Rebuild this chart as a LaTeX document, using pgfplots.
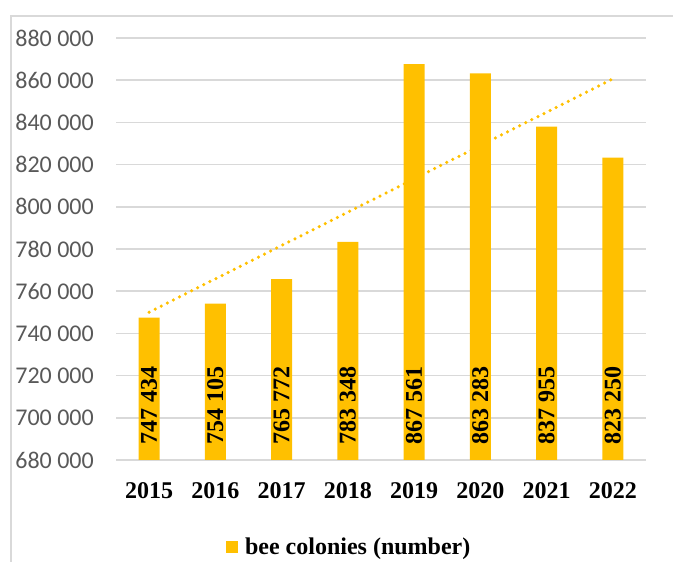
\documentclass[border=0pt]{standalone}
\usepackage{pgfplots}
\pgfplotsset{compat=1.18}
\usepackage{fontspec}
\setmainfont{Liberation Serif}
\newfontfamily\calibri{Carlito}
\definecolor{gold}{HTML}{FFC000}
\definecolor{gridgray}{HTML}{D9D9D9}
\definecolor{ticktext}{HTML}{595959}
\begin{document}
\begin{tikzpicture}
  \path[use as bounding box] (0bp,0bp) rectangle (673bp,562bp);
  % chart frame (cut by the page on the right and bottom)
  \draw[gridgray, line width=1.5bp] (11bp,0bp) -- (11bp,546bp) -- (673bp,546bp);
  \begin{axis}[
      at={(116bp,102bp)}, anchor=south west,
      scale only axis, width=530bp, height=422bp,
      ybar, bar width=21bp,
      xmin=0.5, xmax=8.5,
      ymin=680000, ymax=880000,
      scaled y ticks=false,
      xtick={1,...,8},
      xticklabels={2015,2016,2017,2018,2019,2020,2021,2022},
      ytick={680000,700000,...,880000},
      yticklabels={680 000,700 000,720 000,740 000,760 000,780 000,800 000,820 000,840 000,860 000,880 000},
      axis line style={draw=none},
      major tick length=0pt,
      ymajorgrids=true,
      grid style={gridgray, line width=1.5bp},
      xticklabel style={font=\fontsize{24bp}{28bp}\selectfont\bfseries, anchor=north, inner sep=0pt, yshift=-22bp},
      yticklabel style={font=\fontsize{24bp}{28bp}\calibri, text=ticktext, anchor=east, inner sep=0pt, xshift=-22bp},
      legend style={at={(axis description cs:0.44,-0.206)}, anchor=center, draw=none, fill=none,
        font=\fontsize{24bp}{28bp}\selectfont\bfseries},
      legend image code/.code={\fill[gold] (0bp,-6bp) rectangle (12bp,6bp); \path (17bp,0bp);},
    ]
    \addplot[fill=gold, draw=none] coordinates {
      (1,747434) (2,754105) (3,765772) (4,783348)
      (5,867561) (6,863283) (7,837955) (8,823250)
    };
    \addlegendentry{bee colonies (number)}
    % linear trend, end points of the least-squares line
    \addplot[sharp plot, gold, line width=3.5bp, line cap=round, dash pattern=on 0pt off 6.8bp, forget plot]
      coordinates {(1,750059) (8,860618)};
    % value labels at the bottom of each bar
    \addplot[draw=none, mark=none, forget plot, point meta=explicit symbolic,
      nodes near coords,
      every node near coord/.style={anchor=west, rotate=90, inner xsep=15bp, inner ysep=0pt,
        font=\fontsize{24bp}{28bp}\selectfont\bfseries, text=black}]
      coordinates {
      (1,680000) [747 434] (2,680000) [754 105] (3,680000) [765 772] (4,680000) [783 348]
      (5,680000) [867 561] (6,680000) [863 283] (7,680000) [837 955] (8,680000) [823 250]
    };
  \end{axis}
\end{tikzpicture}
\end{document}
